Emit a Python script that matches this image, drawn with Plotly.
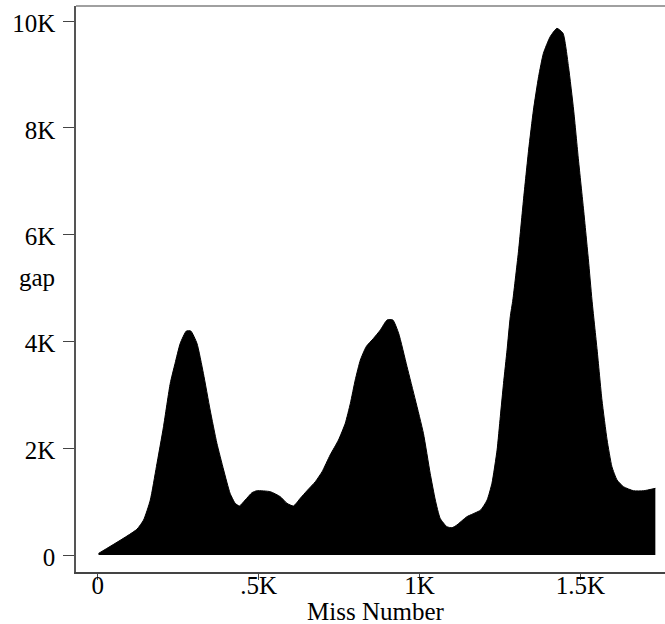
import plotly.graph_objects as go

miss_number = [2, 121, 142, 163, 182, 204, 225, 240, 256, 275, 289, 308, 328, 349, 370, 391, 411, 427, 440, 458,
               479, 494, 536, 567, 588, 608, 629, 650, 676, 697, 722, 748, 769, 785, 800, 816, 834, 857, 878, 899,
               917, 935, 961, 987, 1012, 1033, 1049, 1064, 1085, 1101, 1116, 1147, 1190, 1210, 1225, 1241, 1251,
               1261, 1272, 1282, 1290, 1308, 1323, 1339, 1354, 1370, 1385, 1406, 1427, 1446, 1463, 1479, 1494,
               1510, 1525, 1536, 1552, 1567, 1583, 1598, 1614, 1634, 1665, 1697, 1733]
gap = [30, 481, 655, 1030, 1654, 2403, 3215, 3590, 3964, 4195, 4195, 3964, 3402, 2715, 2091, 1592, 1155, 968, 918, 1030,
       1167, 1204, 1186, 1092, 968, 918, 1061, 1204, 1373, 1560, 1873, 2154, 2466, 2841, 3277, 3652, 3901, 4058, 4213, 4401,
       4401, 4151, 3527, 2903, 2279, 1530, 1030, 687, 530, 511, 562, 717, 843, 1030, 1343, 1966, 2590,
       3215, 3839, 4463, 4775, 5712, 6648, 7584, 8333, 8957, 9395, 9706, 9863, 9769, 9144, 8333, 7397,
       6461, 5524, 4775, 3839, 2903, 2154, 1654, 1404, 1279, 1204, 1204, 1249]

x_tickvals = [0, 500, 1000, 1500]
x_ticktext = ["0", ".5K", "1K", "1.5K"]
y_tickvals = [0, 2000, 4000, 6000, 8000, 10000]
y_ticktext = ["0", "2K", "4K", "6K", "8K", "10K"]

FONT = "Liberation Serif"
FS = 25

fig = go.Figure()
fig.add_trace(go.Scatter(
    x=miss_number, y=gap, mode="lines", fill="tozeroy",
    fillcolor="black", line=dict(color="black", width=1, shape="spline", smoothing=0.5),
    showlegend=False, hoverinfo="skip",
))

fig.update_layout(
    width=665, height=624,
    margin=dict(l=76, r=0, t=6, b=52, autoexpand=False),
    paper_bgcolor="white", plot_bgcolor="white",
    font=dict(family=FONT, size=FS, color="black"),
    xaxis=dict(
        range=[-68, 1763], tickvals=x_tickvals, ticktext=x_ticktext,
        showgrid=False, zeroline=False, showline=True, linecolor="#444444", linewidth=1.5,
        ticks="outside", ticklen=6, tickcolor="#444444", tickwidth=1,
        ticklabelstandoff=-16,
        automargin=False,
    ),
    yaxis=dict(
        range=[-318, 10281], tickvals=y_tickvals, ticktext=y_ticktext,
        showgrid=False, zeroline=False, showline=True, linecolor="#555555", linewidth=1.5,
        ticks="outside", ticklen=11, tickcolor="#444444", tickwidth=1,
        ticklabelstandoff=3, ticklabelshift=2,
        automargin=False,
    ),
    shapes=[dict(type="line", xref="paper", yref="paper", x0=0, x1=1, y0=1, y1=1,
                 line=dict(color="#808080", width=1.5))],
    annotations=[
        dict(text="gap", xref="paper", yref="paper", x=-0.066, y=0.52,
             xanchor="center", yanchor="middle", showarrow=False,
             font=dict(family=FONT, size=FS)),
        dict(text="Miss Number", xref="paper", yref="paper", x=0.509, y=0, yshift=-39,
             xanchor="center", yanchor="middle", showarrow=False,
             font=dict(family=FONT, size=FS)),
    ],
)

fig.write_html("out.html", config={"displayModeBar": False},
               post_script="document.body.style.margin='0';document.body.style.overflow='hidden';")
